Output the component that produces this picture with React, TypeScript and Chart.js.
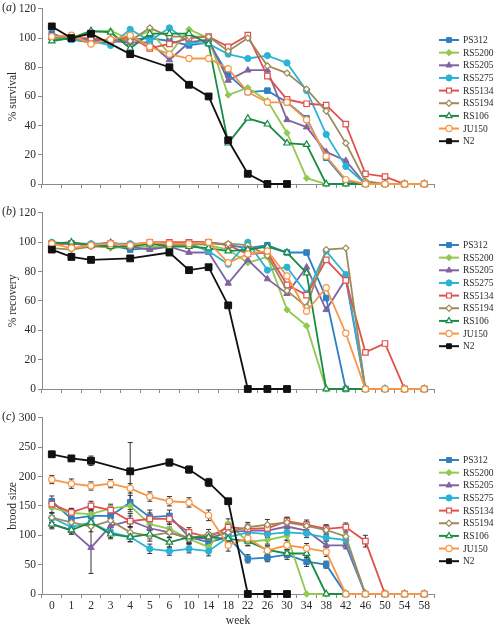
import React, { useEffect, useRef } from 'react';
import { Chart, registerables } from 'chart.js';
import { drawPoint } from 'chart.js/helpers';

Chart.register(...registerables);

const FONT = "'Liberation Serif', 'Times New Roman', serif";

const weeks = ['0', '1', '2', '3', '4', '5', '6', '10', '14', '18', '22', '26', '30', '34', '38', '42', '46', '50', '54', '58'];
const seriesNames = ['PS312', 'RS5200', 'RS5205', 'RS5275', 'RS5134', 'RS5194', 'RS106', 'JU150', 'N2'];
const seriesColors = ['#2f7fc1', '#92c950', '#8064a2', '#2bb3d6', '#e0504d', '#9c8b5a', '#1a8c45', '#f79646', '#111111'];
const seriesOpen = [false, false, false, false, true, true, true, true, false];
const seriesMarkers = ['rect', 'rectRot', 'triangle', 'circle', 'rect', 'rectRot', 'triangle', 'circle', 'rect'];
const seriesRadius = [3.9, 3.2, 3.7, 3.1, 3.9, 3.1, 3.7, 3.1, 4.8];

// (a) % survival
const survivalPS312 = [103, 99, 97, 97, 99, 100, 98, 95, 97, 75, 63, 64, 56, 45, 18, 2, 0, 0, 0, 0];
const survivalRS5200 = [99, 100, 104, 105, 99, 105, 89, 106, 100, 61, 66, 57, 35, 4, 0, 0, 0, 0, 0, 0];
const survivalRS5205 = [100, 100, 99, 98, 97, 97, 85, 97, 99, 71, 78, 78, 44, 39, 22, 16, 0, 0, 0, 0];
const survivalRS5275 = [100, 99, 98, 95, 106, 98, 107, 97, 96, 89, 86, 88, 83, 64, 34, 12, 0, 0, 0, 0];
const survivalRS5134 = [101, 100, 100, 98, 101, 93, 96, 100, 101, 94, 102, 74, 58, 55, 54, 41, 7, 5, 0, 0];
const survivalRS5194 = [100, 101, 96, 100, 98, 107, 101, 101, 101, 91, 100, 81, 76, 65, 50, 28, 2, 0, 0, 0];
const survivalRS106 = [98, 100, 105, 104, 93, 103, 103, 103, 96, 28, 45, 41, 28, 27, 0, 0, 0, 0, 0, 0];
const survivalJU150 = [101, 102, 96, 99, 102, 94, 89, 86, 86, 79, 63, 56, 56, 44, 19, 3, 0, 0, 0, 0];
const survivalN2 = [108, 100, 103, null, 89, null, 80, 68, 60, 30, 7, 0, 0, null, null, null, null, null, null, null];

// (b) % recovery
const recoveryPS312 = [99, 99, 98, 98, 95, 96, 97, 100, 100, 98, 96, 98, 93, 93, 62, 0, 0, 0, 0, 0];
const recoveryRS5200 = [98, 99, 98, 96, 97, 97, 97, 99, 98, 95, 86, 90, 54, 43, 0, 0, 0, 0, 0, 0];
const recoveryRS5205 = [99, 99, 98, 100, 97, 95, 97, 93, 93, 72, 88, 75, 65, 83, 54, 75, 0, 0, 0, 0];
const recoveryRS5275 = [100, 99, 99, 99, 99, 99, 99, 99, 94, 85, 100, 81, 83, 65, 94, 78, 0, 0, 0, 0];
const recoveryRS5134 = [99, 99, 98, 99, 98, 100, 100, 100, 100, 98, 92, 93, 71, 64, 88, 74, 25, 31, 0, 0];
const recoveryRS5194 = [96, 95, 97, 97, 97, 99, 98, 98, 99, 99, 98, 91, 67, 56, 95, 96, 0, 0, 0, 0];
const recoveryRS106 = [99, 100, 98, 97, 97, 99, 97, 97, 96, 94, 95, 97, 93, 79, 0, 0, 0, 0, 0, 0];
const recoveryJU150 = [99, 96, 98, 99, 98, 100, 99, 99, 100, 86, 92, 94, 77, 53, 69, 38, 0, 0, 0, 0];
const recoveryN2 = [95, 90, 88, null, 89, null, 93, 81, 83, 57, 0, 0, 0, null, null, null, null, null, null, null];

// (c) brood size
const broodPS312 = [158, 128, 133, 133, 156, 131, 133, 97, 88, 97, 60, 62, 67, 55, 50, 0, 0, 0, 0, 0];
const broodRS5200 = [147, 138, 136, 146, 150, 119, 111, 94, 80, 120, 89, 92, 99, 0, 0, 0, 0, 0, 0, 0];
const broodRS5205 = [119, 108, 79, 116, 125, 112, 105, 95, 95, 105, 108, 108, 115, 108, 83, 83, 0, 0, 0, 0];
const broodRS5275 = [130, 114, 122, 105, 97, 77, 73, 77, 73, 97, 105, 102, 105, 103, 96, 92, 0, 0, 0, 0];
const broodRS5134 = [153, 139, 150, 143, 124, 128, 128, 105, 97, 114, 111, 112, 124, 118, 111, 114, 90, 0, 0, 0];
const broodRS5194 = [130, 122, 115, 125, 105, 99, 105, 94, 102, 105, 114, 118, 122, 116, 109, 98, 0, 0, 0, 0];
const broodRS106 = [119, 109, 122, 102, 97, 102, 88, 97, 97, 94, 90, 75, 69, 69, 0, 0, 0, 0, 0, 0];
const broodJU150 = [195, 188, 184, 188, 180, 166, 158, 156, 134, 83, 95, 74, 83, 78, 72, 0, 0, 0, 0, 0];
const broodN2 = [238, 231, 227, null, 209, null, 224, 212, 190, 158, 0, 0, 0, null, null, null, null, null, null, null];

// (c) error bars (half-widths)
const broodErrPS312 = [9, 8, 8, 8, 12, 12, 10, 9, 8, 8, 7, 7, 8, 8, 6, 0, 0, 0, 0, 0];
const broodErrRS5200 = [8, 7, 8, 7, 10, 9, 8, 8, 8, 8, 7, 7, 7, 0, 0, 0, 0, 0, 0, 0];
const broodErrRS5205 = [6, 6, 44, 8, 12, 9, 8, 8, 8, 8, 7, 7, 7, 7, 8, 6, 0, 0, 0, 0];
const broodErrRS5275 = [8, 7, 9, 9, 8, 8, 7, 7, 8, 8, 7, 6, 6, 7, 6, 6, 0, 0, 0, 0];
const broodErrRS5134 = [8, 7, 8, 7, 9, 10, 9, 8, 8, 8, 8, 7, 7, 8, 7, 7, 10, 0, 0, 0];
const broodErrRS5194 = [8, 7, 9, 8, 10, 9, 9, 8, 8, 8, 8, 9, 8, 7, 8, 6, 0, 0, 0, 0];
const broodErrRS106 = [8, 7, 8, 8, 8, 8, 8, 7, 7, 8, 7, 7, 7, 7, 0, 0, 0, 0, 0, 0];
const broodErrJU150 = [7, 8, 7, 7, 8, 8, 8, 8, 9, 10, 9, 8, 8, 8, 8, 0, 0, 0, 0, 0];
const broodErrN2 = [5, 5, 8, null, 49, null, 6, 6, 7, 4, 0, 0, 0, null, null, null, null, null, null, null];

const survivalSeries = [survivalPS312, survivalRS5200, survivalRS5205, survivalRS5275, survivalRS5134, survivalRS5194, survivalRS106, survivalJU150, survivalN2];
const recoverySeries = [recoveryPS312, recoveryRS5200, recoveryRS5205, recoveryRS5275, recoveryRS5134, recoveryRS5194, recoveryRS106, recoveryJU150, recoveryN2];
const broodSeries = [broodPS312, broodRS5200, broodRS5205, broodRS5275, broodRS5134, broodRS5194, broodRS106, broodJU150, broodN2];
const broodErrors = [broodErrPS312, broodErrRS5200, broodErrRS5205, broodErrRS5275, broodErrRS5134, broodErrRS5194, broodErrRS106, broodErrJU150, broodErrN2];

const AXIS_COLOR = '#8a8a8a';
const TEXT_COLOR = '#2a2a2a';

type PanelProps = {
  top: number;
  height: number;
  xHeight: number;
  yMax: number;
  yStep: number;
  yTitle: string;
  showX: boolean;
  series: (number | null)[][];
  errors?: (number | null)[][];
  legendTop: number;
  letter: string;
};

function Panel(p: PanelProps) {
  const ref = useRef<HTMLCanvasElement | null>(null);
  useEffect(() => {
    if (!ref.current) return;
    const datasets = seriesNames.map((name, i) => ({
      label: name,
      data: p.series[i],
      borderColor: seriesColors[i],
      backgroundColor: seriesColors[i],
      pointBackgroundColor: seriesOpen[i] ? '#ffffff' : seriesColors[i],
      pointBorderColor: seriesColors[i],
      pointStyle: seriesMarkers[i],
      pointRadius: seriesRadius[i],
      pointBorderWidth: seriesOpen[i] ? 1.2 : 1,
      borderWidth: 1.8,
      tension: 0,
      spanGaps: true,
      clip: false as any,
      order: seriesNames.length - 1 - i,
      errorBars: p.errors ? p.errors[i] : null,
    }));

    const errorBarPlugin = {
      id: 'errbars',
      beforeDatasetsDraw(chart: any) {
        const ctx = chart.ctx;
        const ys = chart.scales.y;
        chart.data.datasets.forEach((ds: any, i: number) => {
          const errs = ds.errorBars;
          if (!errs) return;
          const meta = chart.getDatasetMeta(i);
          ctx.save();
          ctx.strokeStyle = '#333';
          ctx.lineWidth = 1;
          ds.data.forEach((v: number | null, j: number) => {
            const e = errs[j];
            if (v == null || !e) return;
            const x = meta.data[j].x;
            const y1 = ys.getPixelForValue(v + e);
            const y2 = ys.getPixelForValue(v - e);
            ctx.beginPath();
            ctx.moveTo(x, y1);
            ctx.lineTo(x, y2);
            ctx.moveTo(x - 2.5, y1);
            ctx.lineTo(x + 2.5, y1);
            ctx.moveTo(x - 2.5, y2);
            ctx.lineTo(x + 2.5, y2);
            ctx.stroke();
          });
          ctx.restore();
        });
      },
    };

    const legendPlugin = {
      id: 'sideLegend',
      afterDraw(chart: any) {
        const ctx = chart.ctx;
        ctx.save();
        chart.data.datasets.forEach((ds: any, i: number) => {
          const y = p.legendTop + i * 12.65;
          ctx.strokeStyle = ds.borderColor;
          ctx.lineWidth = 2;
          ctx.beginPath();
          ctx.moveTo(439, y);
          ctx.lineTo(459, y);
          ctx.stroke();
          ctx.fillStyle = ds.pointBackgroundColor;
          ctx.strokeStyle = ds.pointBorderColor;
          ctx.lineWidth = ds.pointBorderWidth;
          drawPoint(ctx, { pointStyle: ds.pointStyle, radius: Math.min(ds.pointRadius, 3.4), rotation: 0, borderWidth: ds.pointBorderWidth } as any, 449, y);
          ctx.fillStyle = TEXT_COLOR;
          ctx.font = `9.5px ${FONT}`;
          ctx.textBaseline = 'middle';
          ctx.textAlign = 'left';
          ctx.fillText(ds.label, 463, y + 0.5);
        });
        ctx.restore();
      },
    };

    const chart = new Chart(ref.current, {
      type: 'line',
      data: { labels: weeks, datasets: datasets as any },
      options: {
        animation: false,
        responsive: false,
        layout: { padding: { top: 7, right: 70, left: 0, bottom: 0 } },
        plugins: { legend: { display: false }, tooltip: { enabled: false } },
        scales: {
          x: {
            type: 'category',
            offset: true,
            grid: { offset: true, drawOnChartArea: false, drawTicks: true, tickLength: 4, color: AXIS_COLOR },
            border: { color: AXIS_COLOR, width: 1 },
            ticks: {
              display: p.showX,
              autoSkip: false,
              maxRotation: 0,
              padding: 1,
              color: TEXT_COLOR,
              font: { family: FONT, size: 11.5 },
            },
            title: {
              display: p.showX,
              text: 'week',
              color: TEXT_COLOR,
              font: { family: FONT, size: 11.5 },
              padding: { top: 0, bottom: 0 },
            },
            afterFit(scale: any) {
              scale.height = p.xHeight;
            },
          },
          y: {
            min: 0,
            max: p.yMax,
            grid: { drawOnChartArea: false, drawTicks: true, tickLength: 4, color: AXIS_COLOR },
            border: { color: AXIS_COLOR, width: 1 },
            ticks: {
              stepSize: p.yStep,
              padding: 2,
              color: TEXT_COLOR,
              font: { family: FONT, size: 11.5 },
            },
            title: {
              display: true,
              text: p.yTitle,
              color: TEXT_COLOR,
              font: { family: FONT, size: 11.5 },
              padding: { top: 6, bottom: 0 },
            },
            afterFit(scale: any) {
              scale.width = 42;
            },
          },
        },
      },
      plugins: [errorBarPlugin, legendPlugin],
    });
    return () => chart.destroy();
  }, []);

  return (
    <div style={{ position: 'absolute', left: 0, top: p.top, width: 504, height: p.height }}>
      <canvas ref={ref} width={504} height={p.height} style={{ display: 'block', width: 504, height: p.height }} />
      <span
        style={{
          position: 'absolute',
          left: 2,
          top: 0,
          fontFamily: FONT,
          fontSize: 12,
          lineHeight: '14px',
          color: TEXT_COLOR,
        }}
      >
        (<i>{p.letter}</i>)
      </span>
    </div>
  );
}

export default function App() {
  return (
    <div style={{ position: 'absolute', left: 0, top: 0, width: 504, height: 628, background: '#ffffff' }}>
      <Panel top={0} height={200} xHeight={16} yMax={120} yStep={20} yTitle="% survival" showX={false} series={survivalSeries} legendTop={40} letter="a" />
      <Panel top={204} height={201} xHeight={16} yMax={120} yStep={20} yTitle="% recovery" showX={false} series={recoverySeries} legendTop={41} letter="b" />
      <Panel top={409} height={219} xHeight={34} yMax={300} yStep={50} yTitle="brood size" showX={true} series={broodSeries} errors={broodErrors} legendTop={51} letter="c" />
    </div>
  );
}
